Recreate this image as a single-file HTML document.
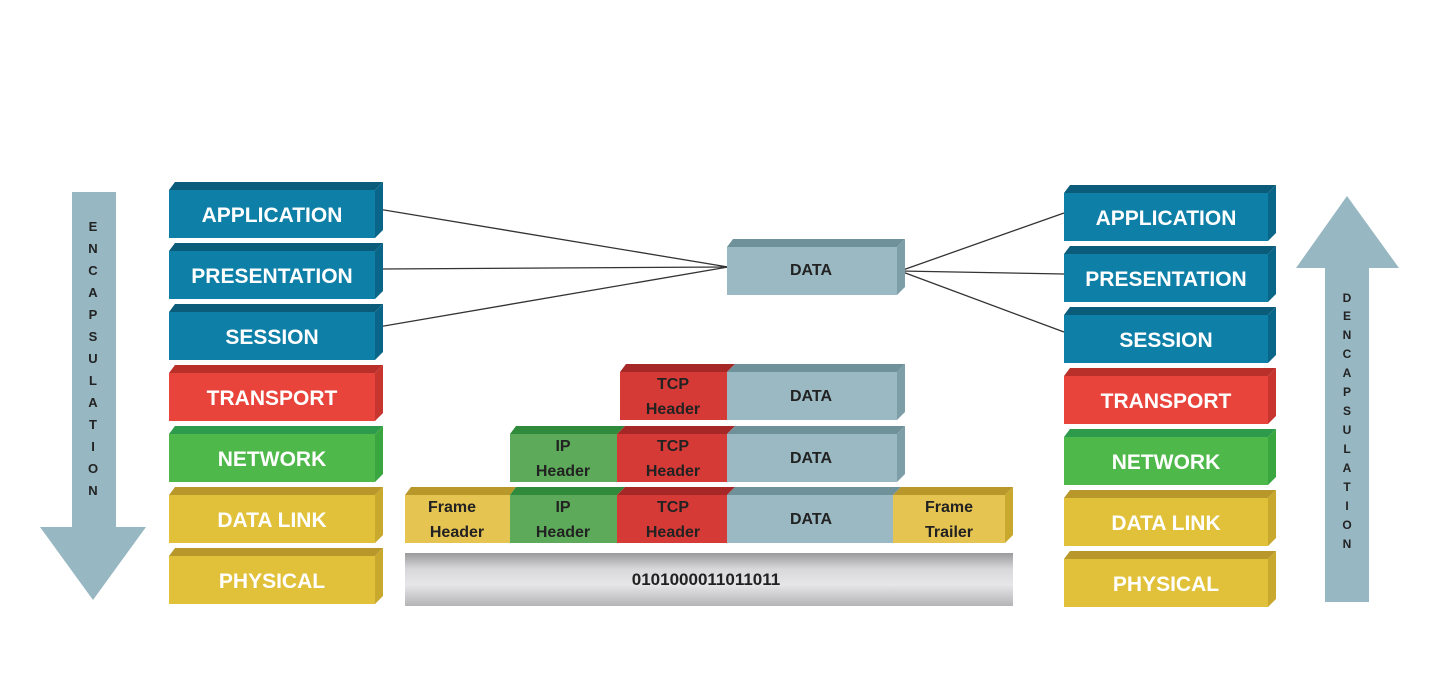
<!DOCTYPE html>
<html><head><meta charset="utf-8"><style>
html,body{margin:0;padding:0;background:#fff;}
svg{display:block;}
text{font-family:"Liberation Sans",sans-serif;font-weight:bold;}
</style></head><body>
<svg width="1448" height="677" viewBox="0 0 1448 677" xmlns="http://www.w3.org/2000/svg">
<defs>
<linearGradient id="gb" x1="0" y1="0" x2="0" y2="1">
<stop offset="0" stop-color="#9a9a9c"/><stop offset="0.3" stop-color="#d8d8da"/><stop offset="0.6" stop-color="#e6e6e8"/><stop offset="1" stop-color="#b4b4b6"/>
</linearGradient>
</defs>
<!-- connector lines -->
<g stroke="#333" stroke-width="1.3">
<line x1="378" y1="209" x2="728" y2="267"/>
<line x1="378" y1="269" x2="728" y2="267"/>
<line x1="378" y1="327" x2="728" y2="267"/>
<line x1="900" y1="271" x2="1064" y2="213"/>
<line x1="900" y1="271" x2="1064" y2="274"/>
<line x1="900" y1="271" x2="1064" y2="332"/>
</g>
<!-- arrows -->
<polygon points="72,192 116,192 116,527 146,527 93,600 40,527 72,527" fill="#97b7c2"/>
<polygon points="1347,196 1399,268 1369,268 1369,602 1325,602 1325,268 1296,268" fill="#97b7c2"/>
<g font-size="13" fill="#222" text-anchor="middle">
<text x="93" y="231">E</text><text x="93" y="253">N</text><text x="93" y="275">C</text><text x="93" y="297">A</text><text x="93" y="319">P</text><text x="93" y="341">S</text><text x="93" y="363">U</text><text x="93" y="385">L</text><text x="93" y="407">A</text><text x="93" y="429">T</text><text x="93" y="451">I</text><text x="93" y="473">O</text><text x="93" y="495">N</text>
</g>
<g font-size="12" fill="#222" text-anchor="middle">
<text x="1347" y="302">D</text><text x="1347" y="320">E</text><text x="1347" y="339">N</text><text x="1347" y="358">C</text><text x="1347" y="377">A</text><text x="1347" y="396">P</text><text x="1347" y="415">S</text><text x="1347" y="434">U</text><text x="1347" y="453">L</text><text x="1347" y="472">A</text><text x="1347" y="491">T</text><text x="1347" y="510">I</text><text x="1347" y="529">O</text><text x="1347" y="548">N</text>
</g>

<!-- left stack -->
<g font-size="21" fill="#fff" text-anchor="middle">
<g transform="translate(169,182)"><polygon points="0,8 6,0 214,0 206,8" fill="#0b5c7a"/><polygon points="206,8 214,0 214,48 206,56" fill="#0a6688"/><rect x="0" y="8" width="206" height="48" fill="#0e7fa6"/><text x="103" y="40">APPLICATION</text></g>
<g transform="translate(169,243)"><polygon points="0,8 6,0 214,0 206,8" fill="#0b5c7a"/><polygon points="206,8 214,0 214,48 206,56" fill="#0a6688"/><rect x="0" y="8" width="206" height="48" fill="#0e7fa6"/><text x="103" y="40">PRESENTATION</text></g>
<g transform="translate(169,304)"><polygon points="0,8 6,0 214,0 206,8" fill="#0b5c7a"/><polygon points="206,8 214,0 214,48 206,56" fill="#0a6688"/><rect x="0" y="8" width="206" height="48" fill="#0e7fa6"/><text x="103" y="40">SESSION</text></g>
<g transform="translate(169,365)"><polygon points="0,8 6,0 214,0 206,8" fill="#b83029"/><polygon points="206,8 214,0 214,48 206,56" fill="#c8352e"/><rect x="0" y="8" width="206" height="48" fill="#e9443c"/><text x="103" y="40">TRANSPORT</text></g>
<g transform="translate(169,426)"><polygon points="0,8 6,0 214,0 206,8" fill="#2e9a4c"/><polygon points="206,8 214,0 214,48 206,56" fill="#3aa640"/><rect x="0" y="8" width="206" height="48" fill="#4fb84a"/><text x="103" y="40">NETWORK</text></g>
<g transform="translate(169,487)"><polygon points="0,8 6,0 214,0 206,8" fill="#b8982a"/><polygon points="206,8 214,0 214,48 206,56" fill="#c9a82e"/><rect x="0" y="8" width="206" height="48" fill="#e1c13a"/><text x="103" y="40">DATA LINK</text></g>
<g transform="translate(169,548)"><polygon points="0,8 6,0 214,0 206,8" fill="#b8982a"/><polygon points="206,8 214,0 214,48 206,56" fill="#c9a82e"/><rect x="0" y="8" width="206" height="48" fill="#e1c13a"/><text x="103" y="40">PHYSICAL</text></g>
</g>

<!-- right stack -->
<g font-size="21" fill="#fff" text-anchor="middle">
<g transform="translate(1064,185)"><polygon points="0,8 6,0 212,0 204,8" fill="#0b5c7a"/><polygon points="204,8 212,0 212,48 204,56" fill="#0a6688"/><rect x="0" y="8" width="204" height="48" fill="#0e7fa6"/><text x="102" y="40">APPLICATION</text></g>
<g transform="translate(1064,246)"><polygon points="0,8 6,0 212,0 204,8" fill="#0b5c7a"/><polygon points="204,8 212,0 212,48 204,56" fill="#0a6688"/><rect x="0" y="8" width="204" height="48" fill="#0e7fa6"/><text x="102" y="40">PRESENTATION</text></g>
<g transform="translate(1064,307)"><polygon points="0,8 6,0 212,0 204,8" fill="#0b5c7a"/><polygon points="204,8 212,0 212,48 204,56" fill="#0a6688"/><rect x="0" y="8" width="204" height="48" fill="#0e7fa6"/><text x="102" y="40">SESSION</text></g>
<g transform="translate(1064,368)"><polygon points="0,8 6,0 212,0 204,8" fill="#b83029"/><polygon points="204,8 212,0 212,48 204,56" fill="#c8352e"/><rect x="0" y="8" width="204" height="48" fill="#e9443c"/><text x="102" y="40">TRANSPORT</text></g>
<g transform="translate(1064,429)"><polygon points="0,8 6,0 212,0 204,8" fill="#2e9a4c"/><polygon points="204,8 212,0 212,48 204,56" fill="#3aa640"/><rect x="0" y="8" width="204" height="48" fill="#4fb84a"/><text x="102" y="40">NETWORK</text></g>
<g transform="translate(1064,490)"><polygon points="0,8 6,0 212,0 204,8" fill="#b8982a"/><polygon points="204,8 212,0 212,48 204,56" fill="#c9a82e"/><rect x="0" y="8" width="204" height="48" fill="#e1c13a"/><text x="102" y="40">DATA LINK</text></g>
<g transform="translate(1064,551)"><polygon points="0,8 6,0 212,0 204,8" fill="#b8982a"/><polygon points="204,8 212,0 212,48 204,56" fill="#c9a82e"/><rect x="0" y="8" width="204" height="48" fill="#e1c13a"/><text x="102" y="40">PHYSICAL</text></g>
</g>

<!-- middle -->
<g font-size="16" fill="#222" text-anchor="middle">
<!-- top DATA -->
<polygon points="727,247 733,239 905,239 897,247" fill="#6f9199"/>
<polygon points="897,247 905,239 905,287 897,295" fill="#7d9ea7"/>
<rect x="727" y="247" width="170" height="48" fill="#9bb9c3"/>
<text x="811" y="275">DATA</text>

<!-- row1 -->
<polygon points="620,372 626,364 735,364 727,372" fill="#a52826"/>
<polygon points="727,372 735,364 905,364 897,372" fill="#6f9199"/>
<polygon points="897,372 905,364 905,412 897,420" fill="#7d9ea7"/>
<rect x="620" y="372" width="107" height="48" fill="#d63a36"/>
<rect x="727" y="372" width="170" height="48" fill="#9bb9c3"/>
<text x="673" y="389">TCP</text><text x="673" y="414">Header</text>
<text x="811" y="401">DATA</text>

<!-- row2 -->
<polygon points="510,434 516,426 625,426 617,434" fill="#2f8a3c"/>
<polygon points="617,434 625,426 735,426 727,434" fill="#a52826"/>
<polygon points="727,434 735,426 905,426 897,434" fill="#6f9199"/>
<polygon points="897,434 905,426 905,474 897,482" fill="#7d9ea7"/>
<rect x="510" y="434" width="107" height="48" fill="#5caa5a"/>
<rect x="617" y="434" width="110" height="48" fill="#d63a36"/>
<rect x="727" y="434" width="170" height="48" fill="#9bb9c3"/>
<text x="563" y="451">IP</text><text x="563" y="476">Header</text>
<text x="673" y="451">TCP</text><text x="673" y="476">Header</text>
<text x="811" y="463">DATA</text>

<!-- row3 -->
<polygon points="405,495 411,487 516,487 510,495" fill="#b8982a"/>
<polygon points="510,495 516,487 625,487 617,495" fill="#2f8a3c"/>
<polygon points="617,495 625,487 735,487 727,495" fill="#a52826"/>
<polygon points="727,495 735,487 901,487 893,495" fill="#6f9199"/>
<polygon points="893,495 901,487 1013,487 1005,495" fill="#b8982a"/>
<polygon points="1005,495 1013,487 1013,535 1005,543" fill="#c9a82e"/>
<rect x="405" y="495" width="105" height="48" fill="#e6c452"/>
<rect x="510" y="495" width="107" height="48" fill="#5caa5a"/>
<rect x="617" y="495" width="110" height="48" fill="#d63a36"/>
<rect x="727" y="495" width="166" height="48" fill="#9bb9c3"/>
<rect x="893" y="495" width="112" height="48" fill="#e6c452"/>
<text x="452" y="512" font-weight="normal">Frame</text><text x="457" y="537" font-weight="normal">Header</text>
<text x="563" y="512">IP</text><text x="563" y="537">Header</text>
<text x="673" y="512">TCP</text><text x="673" y="537">Header</text>
<text x="811" y="524">DATA</text>
<text x="949" y="512">Frame</text><text x="949" y="537">Trailer</text>

<!-- physical bar -->
<rect x="405" y="553" width="608" height="53" fill="url(#gb)"/>
<text x="706" y="585" font-size="17">0101000011011011</text>
</g>
</svg>
</body></html>
